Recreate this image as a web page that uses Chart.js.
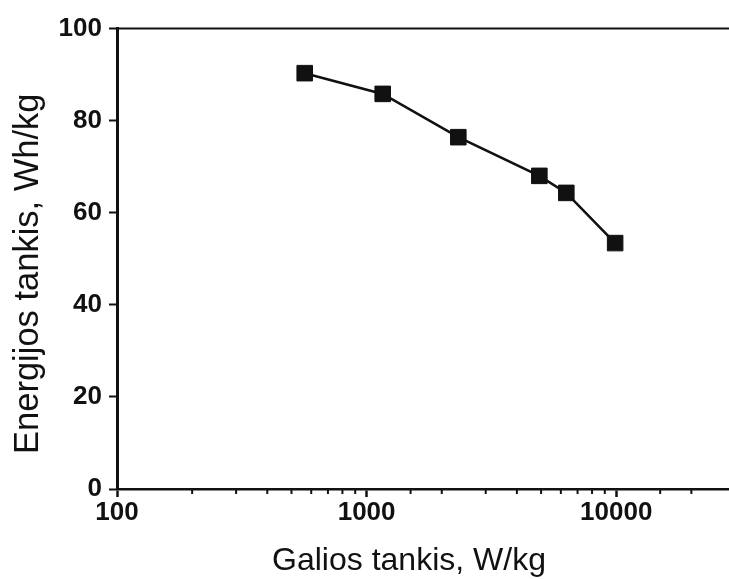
<!DOCTYPE html>
<html>
<head>
<meta charset="utf-8">
<script src="https://cdn.jsdelivr.net/npm/chart.js@4"></script>
<style>
  html, body { margin: 0; padding: 0; background: #fff; }
  #wrap { width: 729px; height: 579px; }
</style>
</head>
<body>
<div id="wrap"><canvas id="c" width="729" height="579"></canvas></div>
<script>
// Power density (W/kg) vs energy density (Wh/kg)
const powerDensity  = [565, 1160, 2330, 4920, 6310, 9900];
const energyDensity = [90.3, 85.8, 76.4, 68.0, 64.3, 53.4];
const xMajorTicks   = [100, 1000, 10000];
const yTicks        = [0, 20, 40, 60, 80, 100];
const xTitle = 'Galios tankis, W/kg';
const yTitle = 'Energijos tankis, Wh/kg';

const FONT = "'Liberation Sans', Arial, Helvetica, sans-serif";
const INK = '#111';

// Top frame line, short minor ticks and both axis titles
const extras = {
  id: 'extras',
  afterDraw(chart) {
    const { ctx, chartArea } = chart;
    const xs = chart.scales.x;
    ctx.save();
    ctx.strokeStyle = INK;
    ctx.lineWidth = 2;
    ctx.beginPath();
    ctx.moveTo(chartArea.left, chartArea.top);
    ctx.lineTo(chartArea.right, chartArea.top);
    ctx.stroke();

    // minor ticks on the log axis
    ctx.lineWidth = 2;
    xs.ticks.forEach(t => {
      if (xMajorTicks.includes(t.value)) return;
      const px = xs.getPixelForValue(t.value);
      if (px > chartArea.right - 1) return;
      ctx.beginPath();
      ctx.moveTo(px, chartArea.bottom);
      ctx.lineTo(px, chartArea.bottom + 5);
      ctx.stroke();
    });

    ctx.fillStyle = INK;
    ctx.textAlign = 'center';
    ctx.textBaseline = 'middle';

    // x axis title
    ctx.font = '32px ' + FONT;
    ctx.fillText(xTitle, 409, 561);

    // y axis title
    ctx.font = '34.5px ' + FONT;
    ctx.translate(28, (chartArea.top + chartArea.bottom) / 2 + 15);
    ctx.rotate(-Math.PI / 2);
    ctx.fillText(yTitle, 0, 0);
    ctx.restore();
  }
};

new Chart(document.getElementById('c'), {
  type: 'line',
  data: {
    datasets: [{
      data: powerDensity.map((p, i) => ({ x: p, y: energyDensity[i] })),
      borderColor: INK,
      borderWidth: 2.6,
      backgroundColor: INK,
      pointStyle: 'rect',
      pointRadius: 11,
      pointHoverRadius: 11,
      pointBorderWidth: 1,
      pointBorderColor: INK,
      pointBackgroundColor: INK,
      tension: 0,
      fill: false
    }]
  },
  options: {
    responsive: false,
    animation: false,
    devicePixelRatio: 1,
    layout: { autoPadding: false, padding: { top: 28.5, right: 0, left: 0, bottom: 0 } },
    plugins: { legend: { display: false }, tooltip: { enabled: false } },
    scales: {
      x: {
        type: 'logarithmic',
        min: 100,
        max: 28300,
        afterFit(scale) { scale.height = 90; scale.paddingLeft = 0; scale.paddingRight = 0; },
        border: { display: true, color: INK, width: 2.5 },
        grid: {
          display: true,
          drawOnChartArea: false,
          drawTicks: true,
          tickLength: 8,
          tickWidth: 2.5,
          tickColor: ctx => (ctx.tick && xMajorTicks.includes(ctx.tick.value)) ? INK : 'rgba(0,0,0,0)'
        },
        ticks: {
          autoSkip: false,
          maxRotation: 0,
          padding: 0,
          color: INK,
          font: { family: FONT, size: 26, weight: 'bold' },
          callback: v => xMajorTicks.includes(v) ? String(v) : ''
        },
        title: { display: false }
      },
      y: {
        min: 0,
        max: 100,
        afterBuildTicks(scale) { scale.ticks = yTicks.map(v => ({ value: v })); },
        afterFit(scale) { scale.width = 117; },
        border: { display: true, color: INK, width: 3 },
        grid: {
          display: true,
          drawOnChartArea: false,
          drawTicks: true,
          tickLength: 8,
          tickWidth: 2,
          tickColor: INK
        },
        ticks: {
          padding: 7,
          color: INK,
          font: { family: FONT, size: 26, weight: 'bold' }
        },
        title: { display: false }
      }
    }
  },
  plugins: [extras]
});
</script>
</body>
</html>
